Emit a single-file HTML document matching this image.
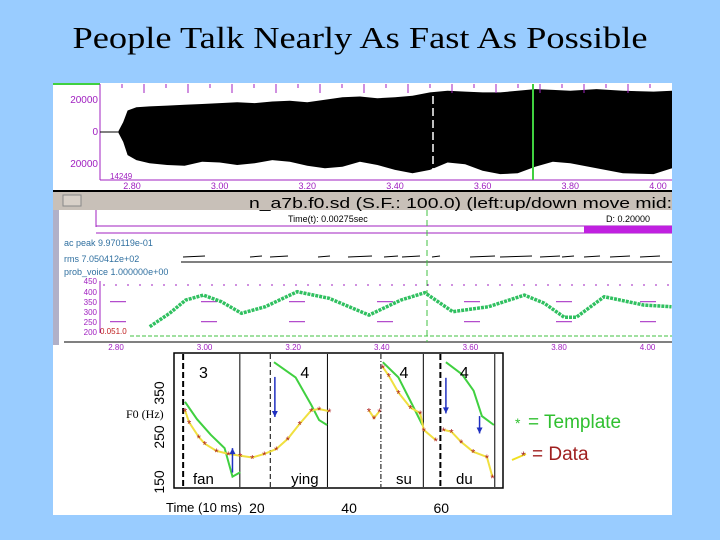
<!DOCTYPE html>
<html><head><meta charset="utf-8"><style>
html,body{margin:0;padding:0;background:#99ccff;}
svg{display:block;}
text{font-family:"Liberation Sans",sans-serif;}
</style></head><body>
<svg id="s" width="720" height="540" viewBox="0 0 720 540">
<rect x="0" y="0" width="720" height="540" fill="#99ccff"/>
<text x="360" y="48" text-anchor="middle" font-size="31" fill="#000" textLength="575" lengthAdjust="spacingAndGlyphs" style="font-family:'Liberation Serif',serif">People Talk Nearly As Fast As Possible</text>
<rect x="53" y="83" width="619" height="432" fill="#fff"/>
<g id="wave">
<line x1="100" y1="84" x2="100" y2="180" stroke="#a020c0" stroke-width="1"/>
<line x1="100" y1="180" x2="672" y2="180" stroke="#a020c0" stroke-width="1"/>
<line x1="53" y1="84" x2="100" y2="84" stroke="#40d040" stroke-width="2"/>
<text x="98" y="103" font-size="10" fill="#a020c0" text-anchor="end">20000</text>
<text x="98" y="135" font-size="10" fill="#a020c0" text-anchor="end">0</text>
<text x="98" y="167" font-size="10" fill="#a020c0" text-anchor="end">20000</text>
<text x="110" y="179" font-size="8" fill="#a020c0">14249</text>
</g>
<rect x="53" y="190" width="619" height="2" fill="#000"/>
<rect x="53" y="192" width="619" height="18" fill="#c8c0b8"/>
<rect x="63" y="195" width="18" height="11" fill="#d8d0c8" stroke="#888"/>
<text x="249" y="208" font-size="15" fill="#000" textLength="423" lengthAdjust="spacingAndGlyphs">n_a7b.f0.sd (S.F.: 100.0) (left:up/down move  mid:</text>
<rect x="53" y="210" width="6" height="135" fill="#b0b0c8"/>
<line x1="96" y1="210" x2="96" y2="227" stroke="#a020c0"/>
<line x1="96" y1="226" x2="672" y2="226" stroke="#a020c0"/>
<line x1="96" y1="233" x2="672" y2="233" stroke="#a020c0"/>
<rect x="584" y="226" width="88" height="7" fill="#c020e0"/>
<text x="288" y="222" font-size="9" fill="#000">Time(t):  0.00275sec</text>
<text x="606" y="222" font-size="9" fill="#000">D: 0.20000</text>
<text x="64" y="246" font-size="9" fill="#3070a0">ac peak 9.970119e-01</text>
<text x="64" y="262" font-size="9" fill="#3070a0">rms 7.050412e+02</text>
<line x1="181" y1="262" x2="672" y2="262" stroke="#000"/>
<text x="64" y="275" font-size="9" fill="#3070a0">prob_voice 1.000000e+00</text>
<g id="f0top">
<line x1="100" y1="281" x2="100" y2="333" stroke="#a020c0"/>
<line x1="64" y1="342" x2="672" y2="342" stroke="#000"/>
<text x="97" y="284" font-size="8" fill="#a020c0" text-anchor="end">450</text>
<text x="97" y="295" font-size="8" fill="#a020c0" text-anchor="end">400</text>
<text x="97" y="305" font-size="8" fill="#a020c0" text-anchor="end">350</text>
<text x="97" y="315" font-size="8" fill="#a020c0" text-anchor="end">300</text>
<text x="97" y="325" font-size="8" fill="#a020c0" text-anchor="end">250</text>
<text x="97" y="335" font-size="8" fill="#a020c0" text-anchor="end">200</text>
<text x="100" y="334" font-size="8" fill="#c02020">0.051.0</text>
</g>
<g id="chart">
<rect x="174" y="353" width="329" height="135" fill="none" stroke="#000" stroke-width="1.5"/>
<text transform="translate(164,482) rotate(-90)" font-size="14" text-anchor="middle">150</text>
<text transform="translate(164,437) rotate(-90)" font-size="14" text-anchor="middle">250</text>
<text transform="translate(164,393) rotate(-90)" font-size="14" text-anchor="middle">350</text>
<text x="126" y="418" font-size="12" style="font-family:'Liberation Serif',serif">F0 (Hz)</text>
<text x="166" y="512" font-size="13">Time (10 ms)</text>
<text x="528" y="428" font-size="19" fill="#30c030">= Template</text>
<text x="515" y="428" font-size="14" fill="#30c030">*</text>
<text x="532" y="460" font-size="19" fill="#a02020">= Data</text>
<line x1="512" y1="460" x2="526" y2="454" stroke="#f0e020" stroke-width="2"/>
<text x="521" y="460" font-size="12" fill="#a02020">*</text>
</g>
</svg>
<script>
var NS='http://www.w3.org/2000/svg';
var svg=document.getElementById('s');
function mk(tag,attrs,parent){var e=document.createElementNS(NS,tag);for(var k in attrs)e.setAttribute(k,attrs[k]);(parent||svg).appendChild(e);return e;}

var waveTimes=[2.768,2.78,2.79,2.81,2.84,2.88,2.92,2.96,3.0,3.04,3.08,3.12,3.16,3.2,3.24,3.28,3.32,3.36,3.40,3.44,3.48,3.52,3.56,3.60,3.64,3.68,3.72,3.76,3.80,3.86,3.92,3.99,4.07];
var waveTop=[0,6000,13000,15000,15500,16000,16500,17000,17500,18000,17500,18500,19000,18000,19500,21000,21500,20500,21000,22000,24000,25000,24500,24000,24000,25000,26000,25500,25000,26000,25000,24500,25000];
var waveBot=[0,-6000,-14000,-17000,-19000,-20000,-20500,-18000,-18500,-20000,-19000,-17000,-18000,-20500,-22000,-21000,-18000,-20000,-23000,-25000,-23000,-18500,-19500,-23500,-25500,-25000,-21000,-18000,-19000,-22000,-25000,-25500,-22000];
var trackTimes=[2.876,2.921,2.957,2.997,3.038,3.083,3.137,3.209,3.281,3.371,3.443,3.497,3.56,3.641,3.722,3.767,3.812,3.839,3.902,3.992,4.054];
var trackF0=[225,292,358,383,350,292,325,400,367,283,358,395,300,325,383,342,272,272,375,333,325];
var waveTickLabels=['2.80','3.00','3.20','3.40','3.60','3.80','4.00'];
var waveTickTimes=[2.8,3.0,3.2,3.4,3.6,3.8,4.0];
var xTicks=[20,40,60];
var templateSegs=[
 [[4.4,329],[7,290],[10,255],[13,225],[14.7,161],[16.4,171]],
 [[23.7,418],[28.4,384],[31.8,322],[33.5,288],[35.2,277]],
 [[47.3,418],[50.7,384],[53.3,331],[55.9,277]],
 [[61,418],[64.5,391],[67,354],[68.8,297],[71.4,277]]];
var dataSegs=[
 [[4.4,310],[5.3,283],[7.4,250],[8.7,235],[11.2,219],[13.8,212],[16.4,208],[19,204],[21.6,212],[24.2,223],[26.7,246],[29.3,280],[31.8,310],[33.5,313],[35.7,308]],
 [[44.3,310],[45.4,293],[46.6,308]],
 [[47.3,407],[48.6,388],[50.7,350],[53.3,316],[55.4,304],[56.2,266],[58.8,243]],
 [[60.5,266],[62.2,262],[64.3,239],[66.9,217],[69.9,205],[71.1,160]]];
var boundaries=[4,16.3,22.9,35.3,46.9,56.1,59.8,71.6];
var boundaryStyle=['thickdash','solid','dash','solid','dashdot','solid','thickdash','solid'];
var arrows=[[14.7,170,225],[23.9,385,295],[61,383,303],[68.3,297,258]];
var toneLabels=['3','4','4','4'];
var toneTimes=[8.4,30.4,51.9,65];
var syllables=['fan','ying','su','du'];

function wx(t){return 132+(t-2.8)*438.3;}
function wy(a){return 132-a*(33/20000);}
function tx(t){return 116+(t-2.8)*443;}
function ty(f){return 331.7-(f-200)*0.2;}
function cx(t){return 164.7+4.61*t;}
function cy(f){return 437-(f-250)*0.445;}

var env='';
for(var i=0;i<waveTimes.length;i++)env+=(i?'L':'M')+Math.min(672,wx(waveTimes[i])).toFixed(1)+','+wy(waveTop[i]).toFixed(1);
for(var i=waveTimes.length-1;i>=0;i--)env+='L'+Math.min(672,wx(waveTimes[i])).toFixed(1)+','+wy(waveBot[i]).toFixed(1);
var w=mk('path',{d:env+'Z',fill:'#000'});


mk('line',{x1:100,y1:132,x2:wx(2.768),y2:132,stroke:'#000'});
for(var x=100;x<672;x+=22){mk('line',{x1:x,y1:84,x2:x,y2:x%44<22?93:88,stroke:'#a020c0'});}
waveTickTimes.forEach(function(t0,i){
var t=mk('text',{x:wx(t0),y:189,'font-size':9,fill:'#a020c0','text-anchor':'middle'});t.textContent=waveTickLabels[i];


var t2=mk('text',{x:tx(t0),y:350,'font-size':8,fill:'#a020c0','text-anchor':'middle'});t2.textContent=waveTickLabels[i];

});
mk('line',{x1:433,y1:84,x2:433,y2:180,stroke:'#fff','stroke-width':1.5,'stroke-dasharray':'8,4'});
mk('line',{x1:427,y1:210,x2:427,y2:342,stroke:'#40c040','stroke-width':1,'stroke-dasharray':'6,4'});
mk('line',{x1:533,y1:84,x2:533,y2:180,stroke:'#40d040','stroke-width':2});
[[183,205],[250,262],[270,288],[318,330],[348,372],[384,398],[402,420],[432,440],[470,495],[500,532],[540,560],[562,574],[584,600],[610,630],[640,660]].forEach(function(s){mk('line',{x1:s[0],y1:257,x2:s[1],y2:256,stroke:'#000'});});
for(var x=104;x<672;x+=12){mk('line',{x1:x,y1:284,x2:x,y2:286,stroke:'#a020c0'});}
[110,201,289,377,464,556,640].forEach(function(x){mk('line',{x1:x,y1:301.7,x2:x+16,y2:301.7,stroke:'#a020c0'});mk('line',{x1:x,y1:321.7,x2:x+16,y2:321.7,stroke:'#a020c0'});});
mk('line',{x1:130,y1:336,x2:672,y2:336,stroke:'#40c040','stroke-dasharray':'4,2'});
var td='';
for(var i=0;i<trackTimes.length;i++)td+=(i?'L':'M')+Math.min(672,tx(trackTimes[i])).toFixed(1)+','+ty(trackF0[i]).toFixed(1);
var tr=mk('path',{d:td,fill:'none',stroke:'#30c060','stroke-width':3.5,'stroke-dasharray':'3,1'});



boundaries.forEach(function(b,i){var st=boundaryStyle[i];var a={x1:cx(b),y1:354,x2:cx(b),y2:487,stroke:'#000','stroke-width':st=='thickdash'?2:1};
if(st=='thickdash')a['stroke-dasharray']='6,3';if(st=='dash')a['stroke-dasharray']='5,3';if(st=='dashdot')a['stroke-dasharray']='5,2,1,2';
var l=mk('line',a);

});
xTicks.forEach(function(v){var t=mk('text',{x:cx(v),y:513,'font-size':14,'text-anchor':'middle'});t.textContent=v;

});
function segPath(seg){return seg.map(function(p,i){return (i?'L':'M')+cx(p[0]).toFixed(1)+','+cy(p[1]).toFixed(1);}).join('');}
templateSegs.forEach(function(seg){var p=mk('path',{d:segPath(seg),fill:'none',stroke:'#40d040','stroke-width':2});

});
dataSegs.forEach(function(seg){var p=mk('path',{d:segPath(seg),fill:'none',stroke:'#f0e040','stroke-width':2});


seg.forEach(function(pt){var s=mk('text',{x:cx(pt[0]),y:cy(pt[1])+5,'font-size':11,fill:'#b02020','text-anchor':'middle'});s.textContent='*';

});});
arrows.forEach(function(a){var x=cx(a[0]),y1=cy(a[1]),y2=cy(a[2]);var dir=y2>y1?1:-1;
var l=mk('line',{x1:x,y1:y1,x2:x,y2:y2,stroke:'#2030c0','stroke-width':1.5});


mk('path',{d:'M'+(x-3)+','+(y2-dir*6)+'L'+(x+3)+','+(y2-dir*6)+'L'+x+','+y2+'Z',fill:'#2030c0'});});
toneLabels.forEach(function(s,i){var t=mk('text',{x:cx(toneTimes[i]),y:378,'font-size':16,'text-anchor':'middle'});t.textContent=s;


var u=mk('text',{x:cx(toneTimes[i]),y:484,'font-size':15,'text-anchor':'middle'});u.textContent=syllables[i];

});
</script>
</body></html>
